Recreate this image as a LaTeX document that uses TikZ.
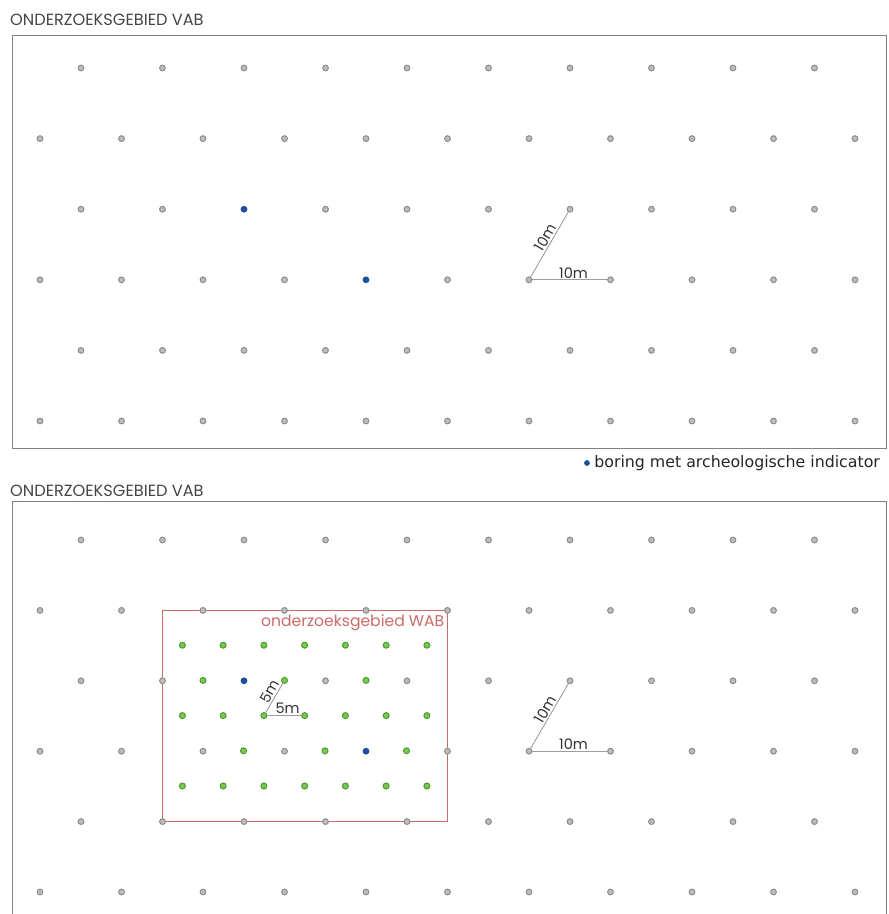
\documentclass[tikz,border=0pt]{standalone}
\usepackage{fontspec}
\setmainfont{Poppins}
\newfontfamily\legendfont{DejaVu Sans}
\usetikzlibrary{positioning,backgrounds}

\definecolor{dotgrey}{HTML}{BDBDBD}
\definecolor{dotedge}{HTML}{8C8C8C}
\definecolor{dotblue}{HTML}{1F4E9C}
\definecolor{dotgreen}{HTML}{79C850}
\definecolor{greenedge}{HTML}{4F9A33}
\definecolor{wabred}{HTML}{C96B69}
\definecolor{titlegrey}{HTML}{454545}

\tikzset{
  gpt/.style={circle, draw=dotedge, fill=dotgrey, line width=1pt, inner sep=0pt, minimum size=5.8pt},
  bpt/.style={circle, fill=dotblue, inner sep=0pt, minimum size=6.8pt},
  grpt/.style={circle, draw=greenedge, fill=dotgreen, line width=1pt, inner sep=0pt, minimum size=6pt},
  ruler/.style={draw=black!38, line width=.9pt},
  rulertext/.style={font=\fontsize{14.5}{15}\selectfont, text=black!80, inner sep=1.2pt},
  panel/.style={draw=black!50, line width=1.2pt, inner sep=0pt, anchor=north west},
  paneltitle/.style={font=\fontsize{16.2}{17}\selectfont, text=titlegrey, inner sep=0pt, anchor=base west},
  wabtext/.style={font=\fontsize{15.6}{16}\selectfont, text=wabred, inner sep=0pt},
}

\begin{document}
\begin{tikzpicture}[x=1pt, y=-1pt]
  \useasboundingbox (0,0) rectangle (889,914);

  \node[paneltitle] (toptitle) at (10,25) {ONDERZOEKSGEBIED VAB};
  \node[panel, minimum width=874pt, minimum height=413pt] (topbox) at (12,35) {};

  % boorgrid 10m
  \foreach \j in {0,...,5}{
    \ifodd\j \def\xs{40}\def\imax{10}\else \def\xs{81}\def\imax{9}\fi
    \foreach \i in {0,...,\imax}{
      \pgfmathtruncatemacro\isblue{(\j==2 && \i==2) || (\j==3 && \i==4)}
      \ifnum\isblue=1
        \node[bpt] (a-\j-\i) at ({\xs+81.5*\i},{68+70.6*\j}) {};
      \else
        \node[gpt] (a-\j-\i) at ({\xs+81.5*\i},{68+70.6*\j}) {};
      \fi
    }
  }
  \draw[ruler] (a-3-6) -- node[rulertext, sloped, above, pos=.55] {10m} (a-2-6);
  \draw[ruler] (a-3-6) -- node[rulertext, above, pos=.55] {10m} (a-3-7);

  \node[bpt, minimum size=5.8pt] (legdot) at (587,463) {};
  \node[right=4pt of legdot, font=\legendfont\fontsize{15.8}{16}\selectfont, text=black!85, inner sep=0pt] (legtext) {boring met archeologische indicator};

  \node[paneltitle] (bottitle) at (10,496) {ONDERZOEKSGEBIED VAB};
  \node[panel, minimum width=874pt, minimum height=420pt] (botbox) at (12,501) {};

  \foreach \j in {0,...,5}{
    \ifodd\j \def\xs{40}\def\imax{10}\else \def\xs{81}\def\imax{9}\fi
    \foreach \i in {0,...,\imax}{
      \pgfmathtruncatemacro\isblue{(\j==2 && \i==2) || (\j==3 && \i==4)}
      \ifnum\isblue=1
        \node[bpt] (b-\j-\i) at ({\xs+81.5*\i},{540+70.4*\j}) {};
      \else
        \node[gpt] (b-\j-\i) at ({\xs+81.5*\i},{540+70.4*\j}) {};
      \fi
    }
  }

  % verdichting 5m
  \foreach \k in {0,2,4}{
    \foreach \i in {0,...,6}
      \node[grpt] (g-\k-\i) at ({182.4+40.75*\i},{610+35.2*(\k+1)}) {};
  }
  \foreach \i in {0,1,2}{
    \node[grpt] (g-1-\i) at ({203+81.5*\i},{610+35.2*2}) {};
    \node[grpt] (g-3-\i) at ({243.5+81.5*\i},{610+35.2*4}) {};
  }

  \begin{scope}[on background layer]
    \draw[wabred, line width=1.1pt] (b-4-1.center) rectangle (b-1-5.center);
  \end{scope}
  \node[wabtext, anchor=north east] (wabtitle) at ([xshift=-3pt,yshift=-4pt]b-1-5.center) {onderzoeksgebied WAB};

  \draw[ruler] (g-2-2) -- node[rulertext, sloped, above, pos=.6] {5m} (g-1-1);
  \draw[ruler] (g-2-2) -- node[rulertext, above, pos=.6] {5m} (g-2-3);

  \draw[ruler] (b-3-6) -- node[rulertext, sloped, above, pos=.55] {10m} (b-2-6);
  \draw[ruler] (b-3-6) -- node[rulertext, above, pos=.55] {10m} (b-3-7);
\end{tikzpicture}
\end{document}
